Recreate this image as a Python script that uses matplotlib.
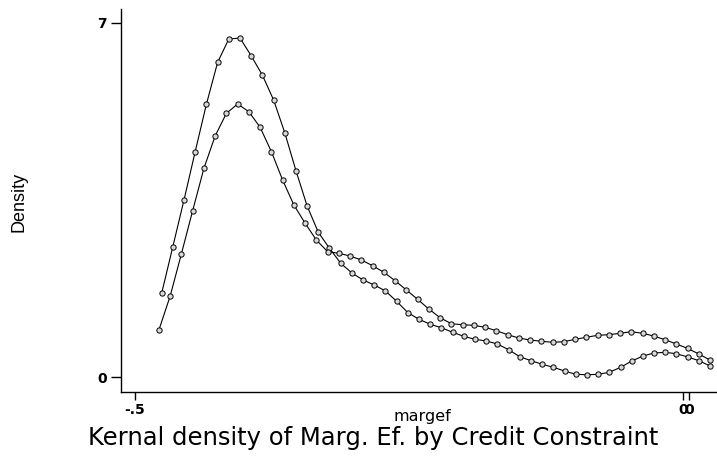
import matplotlib
matplotlib.use("Agg")
import matplotlib.pyplot as plt

plt.rcParams['font.family'] = ['DejaVu Sans']

# kernel density estimates of the marginal effect, one curve per group
x_constrained = [
    -0.4756, -0.4654, -0.4552, -0.4450, -0.4347, -0.4245, -0.4143, -0.4041, -0.3939, -0.3837,
    -0.3734, -0.3632, -0.3530, -0.3428, -0.3326, -0.3224, -0.3121, -0.3019, -0.2917, -0.2815,
    -0.2713, -0.2611, -0.2508, -0.2406, -0.2304, -0.2202, -0.2100, -0.1998, -0.1896, -0.1793,
    -0.1691, -0.1589, -0.1487, -0.1385, -0.1283, -0.1180, -0.1078, -0.0976, -0.0874, -0.0772,
    -0.0670, -0.0567, -0.0465, -0.0363, -0.0261, -0.0159, -0.0057, 0.0046, 0.0148, 0.0250,
]
dens_constrained = [
    1.658, 2.578, 3.500, 4.453, 5.395, 6.218, 6.678, 6.698, 6.348, 5.967,
    5.474, 4.828, 4.078, 3.381, 2.862, 2.547, 2.250, 2.059, 1.921, 1.822,
    1.704, 1.500, 1.275, 1.145, 1.046, 0.979, 0.888, 0.809, 0.750, 0.717,
    0.657, 0.545, 0.407, 0.328, 0.257, 0.197, 0.124, 0.059, 0.051, 0.059,
    0.099, 0.197, 0.322, 0.420, 0.480, 0.493, 0.466, 0.401, 0.328, 0.223,
]

x_unconstrained = [
    -0.4781, -0.4678, -0.4576, -0.4473, -0.4370, -0.4268, -0.4165, -0.4062, -0.3960, -0.3857,
    -0.3754, -0.3652, -0.3549, -0.3446, -0.3344, -0.3241, -0.3138, -0.3036, -0.2933, -0.2830,
    -0.2728, -0.2625, -0.2522, -0.2420, -0.2317, -0.2214, -0.2112, -0.2009, -0.1906, -0.1804,
    -0.1701, -0.1598, -0.1496, -0.1393, -0.1290, -0.1188, -0.1085, -0.0982, -0.0880, -0.0777,
    -0.0674, -0.0572, -0.0469, -0.0366, -0.0264, -0.0161, -0.0058, 0.0044, 0.0147, 0.0250,
]
dens_unconstrained = [
    0.934, 1.605, 2.434, 3.289, 4.126, 4.763, 5.211, 5.395, 5.243, 4.935,
    4.453, 3.895, 3.401, 3.040, 2.710, 2.480, 2.448, 2.394, 2.315, 2.203,
    2.073, 1.907, 1.723, 1.540, 1.348, 1.176, 1.058, 1.038, 1.026, 0.987,
    0.920, 0.841, 0.776, 0.736, 0.711, 0.691, 0.703, 0.750, 0.790, 0.829,
    0.841, 0.869, 0.900, 0.869, 0.815, 0.742, 0.657, 0.572, 0.460, 0.341,
]

x_ticks = [-0.5, 0.0, 0.0055]
x_tick_labels = ["-.5", "0", "0"]
y_ticks = [0, 7]
y_tick_labels = ["0", "7"]

fig = plt.figure(figsize=(7.17, 4.58), dpi=100)
ax = fig.add_axes([0.1683, 0.1441, 0.8317, 0.8362])

for xs, ys in [(x_constrained, dens_constrained), (x_unconstrained, dens_unconstrained)]:
    ax.plot(xs, ys, color="black", lw=0.8, marker="o", ms=3.8,
            mfc="#d8d8d8", mec="black", mew=0.7)

ax.set_xlim(-0.5130, 0.0313)
ax.set_ylim(-0.290, 7.270)

ax.spines["top"].set_visible(False)
ax.spines["right"].set_visible(False)
ax.spines["left"].set_linewidth(1.0)
ax.spines["bottom"].set_linewidth(1.0)

ax.set_xticks(x_ticks)
ax.set_xticklabels(x_tick_labels, fontsize=10, fontweight="bold")
ax.set_yticks(y_ticks)
ax.set_yticklabels(y_tick_labels, fontsize=10, fontweight="bold")
ax.tick_params(axis="x", direction="out", length=6, width=1.0, pad=2)
ax.tick_params(axis="y", direction="out", length=7, width=1.0, pad=3)

fig.text(0.589, 0.090, "margef", fontsize=11.5, ha="center", va="center")
fig.text(0.026, 0.559, "Density", rotation=90, fontsize=13,
         family="Liberation Sans", ha="center", va="center")
fig.text(0.521, 0.044, "Kernal density of Marg. Ef. by Credit Constraint",
         fontsize=17.5, ha="center", va="center")

fig.savefig("out.png", dpi=100)
